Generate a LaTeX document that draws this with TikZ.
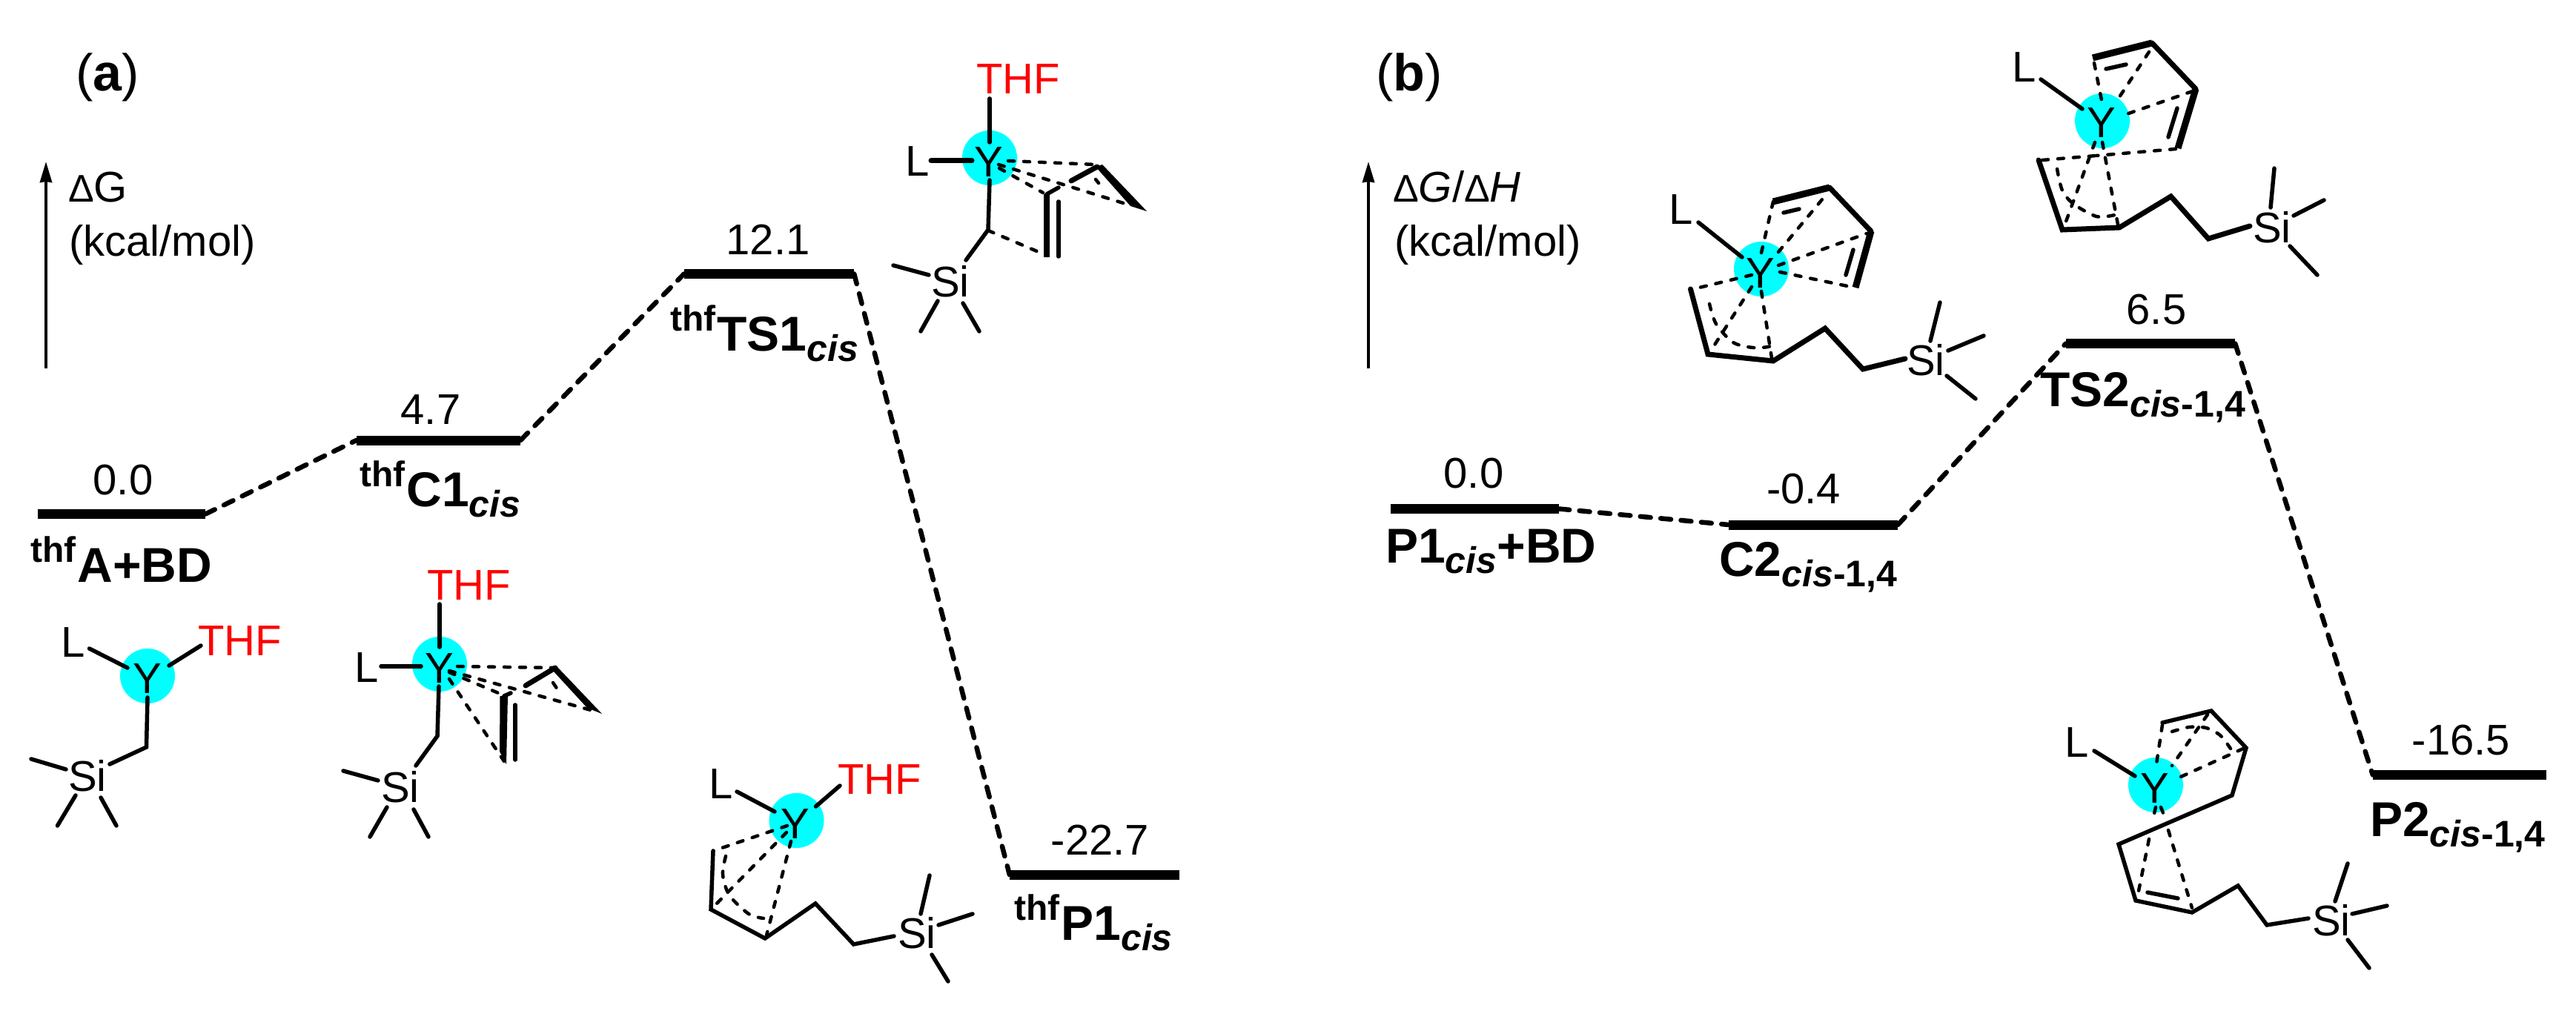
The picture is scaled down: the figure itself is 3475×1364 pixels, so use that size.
\documentclass[tikz,border=0pt]{standalone}
\usepackage{fontspec}
\setmainfont{Liberation Sans}
\usetikzlibrary{arrows.meta}
\definecolor{ycyan}{HTML}{00FFFF}
\newcommand\thfsup{\raisebox{27pt}{\fontsize{48}{48}\selectfont thf}}
\newcommand\cissub[1]{\raisebox{-14pt}{\fontsize{50}{50}\selectfont\textit{cis}#1}}
\newcommand\delt{{\fontsize{52}{52}\selectfont\upshape Δ}}
\tikzset{
  txt/.style={inner sep=0pt,anchor=base west,font=\fontsize{58}{58}\selectfont},
  ctr/.style={inner sep=0pt,anchor=base,font=\fontsize{58}{58}\selectfont},
  thf/.style={txt,text=red},
  lab/.style={inner sep=0pt,anchor=base west,font=\fontsize{66}{66}\selectfont\bfseries},
  panel/.style={inner sep=0pt,anchor=base west,font=\fontsize{70}{70}\selectfont},
  metal/.style={circle,fill=ycyan,inner sep=0pt,minimum size=74pt},
  level/.style={rectangle,fill=black,inner sep=0pt,minimum height=13pt,minimum width=#1},
  conn/.style={line width=6.5pt,line cap=round,dash pattern=on 14pt off 13.5pt},
  bond/.style={line width=5.5pt,line cap=round,line join=miter},
  bondb/.style={line width=7pt,line cap=round,line join=miter},
  heavy/.style={line width=9pt,line cap=butt},
  dbond/.style={line width=4.5pt,line cap=round,dash pattern=on 8pt off 13pt},
  axis/.style={line width=4pt,-{Stealth[length=28pt,width=16pt,inset=1pt]}}
}
\begin{document}
\begin{tikzpicture}[x=1pt,y=-1pt]
\useasboundingbox (0,0) rectangle (3475,1364);
% ---- panel labels and axes
\node[panel] (pa) at (102,123) {(\textbf{a})};
\node[panel] (pb) at (1856,123) {(\textbf{b})};
\coordinate (a0) at (62,497); \coordinate (a1) at (62,218);
\coordinate (b0) at (1846,497); \coordinate (b1) at (1846,218);
\draw[axis] (a0) -- (a1);
\draw[axis] (b0) -- (b1);
\node[txt] (gl) at (92,273) {\delt G};
\node[txt] (ul) at (93,345) {(kcal/mol)};
\node[txt] (gr) at (1879,273) {\delt\textit{G}/\delt\textit{H}};
\node[txt] (ur) at (1881,345) {(kcal/mol)};
% ---- levels
\node[level=226pt] (l1) at (164,693.5) {};
\node[level=221pt] (l2) at (591.5,594) {};
\node[level=229pt] (l3) at (1037.5,369.5) {};
\node[level=229pt] (l4) at (1476.5,1180) {};
\node[level=227pt] (r1) at (1989.5,686.5) {};
\node[level=228pt] (r2) at (2446,708) {};
\node[level=228pt] (r3) at (2901,463.5) {};
\node[level=234pt] (r4) at (3318,1045.5) {};
\draw[conn] (l1.east) -- (l2.west);
\draw[conn] (l2.east) -- (l3.west);
\draw[conn] (l3.east) -- (l4.west);
\draw[conn] (r1.east) -- (r2.west);
\draw[conn] (r2.east) -- (r3.west);
\draw[conn] (r3.east) -- (r4.west);
% ---- energies
\node[ctr] (e1) at (166,667) {0.0};
\node[ctr] (e2) at (581,572) {4.7};
\node[ctr] (e3) at (1036,343) {12.1};
\node[ctr] (e4) at (1484,1153) {-22.7};
\node[ctr] (f1) at (1988,658) {0.0};
\node[ctr] (f2) at (2433,679) {-0.4};
\node[ctr] (f3) at (2909,437) {6.5};
\node[ctr] (f4) at (3320,1018) {-16.5};
% ---- state labels
\node[lab] (s1) at (41,785) {\thfsup\kern2pt A+BD};
\node[lab] (s2) at (485,683) {\thfsup\kern2pt C1\cissub{}};
\node[lab] (s3) at (904,473) {\thfsup\kern2pt TS1\cissub{}};
\node[lab] (s4) at (1368,1268) {\thfsup\kern2pt P1\cissub{}};
\node[lab] (t1) at (1869,759) {P1\cissub{}+BD};
\node[lab] (t2) at (2319,777) {C2\cissub{-1,4}};
\node[lab] (t3) at (2752,548) {TS2\cissub{-1,4}};
\node[lab] (t4) at (3197,1128) {P2\cissub{-1,4}};

% ---- molecule thfA
\node[metal] (ma) at (199,912) {};
\node[ctr] (ay) at (199,935) {Y};
\node[txt] (al) at (82,886) {L};
\node[thf] (at) at (267,884) {THF};
\node[txt] (as) at (92,1067) {Si};
\draw[bond] (120.5,875) -- (172,901);
\draw[bond] (228,898) -- (271,871);
\draw[bond] (199,941) -- (197.5,1008) -- (148,1031);
\draw[bond] (42,1024) -- (89,1038);
\draw[bond] (102,1073) -- (77.5,1114);
\draw[bond] (136,1076) -- (157,1114);

% ---- molecule thfC1
\node[metal] (mb) at (593,896) {};
\node[ctr] (by) at (593,921) {Y};
\node[txt] (bl) at (478,920) {L};
\node[thf] (bt) at (576,809) {THF};
\node[txt] (bs) at (514,1082) {Si};
\draw[bond] (593,815) -- (593,873);
\draw[bond] (514,899) -- (568,899);
\draw[bond] (592,926) -- (590,993) -- (561,1033);
\draw[bond] (463,1040) -- (510,1053);
\draw[bond] (522,1089) -- (499,1129);
\draw[bond] (558,1092) -- (578,1129);
\fill (752,900) -- (812,963) -- (792,955) -- (746,905) -- cycle;
\fill (674.5,939) -- (685,939) -- (683,1031) -- (674,1014) -- cycle;
\draw[bondb] (709,925) -- (749,901);
\draw[bond] (680,939) -- (689,935);
\draw[bond] (695,951) -- (695,1025);
\draw[dbond] (617,899) -- (749,901);
\draw[dbond] (606,905) -- (804,960);
\draw[dbond] (606,907) -- (677,937);
\draw[dbond] (606,916) -- (680,1027);
\draw[dbond] (746,921) -- (752,930);

% ---- molecule thfTS1
\node[metal] (mc) at (1335,213) {};
\node[ctr] (cy) at (1334,239) {Y};
\node[txt] (cl) at (1221,238) {L};
\node[thf] (ct) at (1317,127) {THF};
\node[txt] (cs) at (1256,400) {Si};
\draw[bond] (1335,133) -- (1335,192);
\draw[bondb] (1256,217) -- (1311,217);
\draw[bond] (1335,243) -- (1333,310) -- (1303,351);
\draw[bond] (1205,358) -- (1253,371);
\draw[bond] (1265,406) -- (1242,447);
\draw[bond] (1299,409) -- (1321,447);
\fill (1487,222) -- (1530,267) -- (1547,285) -- (1525,278) -- (1478,225) -- cycle;
\draw[bondb] (1445,244) -- (1480,225);
\draw[bond] (1412,262) -- (1428,253);
\draw[line width=7.5pt] (1412,262) -- (1412,347);
\draw[bond] (1428,272) -- (1428,346);
\draw[dbond] (1360,217) -- (1478,222);
\draw[dbond] (1347,222) -- (1525,277);
\draw[dbond] (1348,227) -- (1407,260);
\draw[dbond] (1333,311) -- (1413,345);
\draw[dbond] (1478,242) -- (1482,247);

% ---- molecule thfP1
\node[metal] (md) at (1074.5,1107) {};
\node[ctr] (dy) at (1073,1131) {Y};
\node[txt] (dl) at (956,1077) {L};
\node[thf] (dt) at (1130,1071) {THF};
\node[txt] (ds) at (1211,1279) {Si};
\draw[bond] (994,1068) -- (1045,1095);
\draw[bond] (1100.5,1088) -- (1133,1060);
\draw[bond] (962,1148) -- (959,1227) -- (1032,1266) -- (1100,1219) -- (1151.5,1274) -- (1206,1263);
\draw[bond] (1254,1181) -- (1242,1233);
\draw[bond] (1266,1248) -- (1312,1233);
\draw[bond] (1257,1288) -- (1279,1324);
\draw[dbond] (1062,1114) -- (962,1148);
\draw[dbond] (1061,1123) -- (959,1227);
\draw[dbond] (1067,1135) -- (1034,1262);
\draw[dbond] plot[smooth] coordinates {(979,1155) (975,1180) (984,1208) (1010,1233) (1030,1239)};

% ---- molecule C2
\node[metal] (me) at (2376,363) {};
\node[ctr] (ey) at (2375,388) {Y};
\node[txt] (el) at (2251,303) {L};
\node[txt] (es) at (2572,506) {Si};
\draw[bond] (2291,300) -- (2350,347);
\draw[heavy] (2392,272) -- (2468,253);
\draw[bondb] (2468,253) -- (2524,312);
\draw[heavy] (2524,312) -- (2503,388);
\draw[bond] (2406,287) -- (2427,282);
\draw[bond] (2490,371) -- (2500,337);
\draw[dbond] (2376,341) -- (2392,272);
\draw[dbond] (2399,340) -- (2464,262);
\draw[dbond] (2399,358) -- (2518,315);
\draw[dbond] (2401,367) -- (2497,387);
\draw[bondb] (2280.5,390) -- (2304,478) -- (2392,487) -- (2462,443) -- (2513,498) -- (2570,484);
\draw[bond] (2617,408) -- (2604,460);
\draw[bond] (2628,473) -- (2676,453);
\draw[bond] (2626,507) -- (2665,538);
\draw[dbond] (2363,371) -- (2284,390);
\draw[dbond] (2363,387) -- (2308,473);
\draw[dbond] (2376,393) -- (2390,483);
\draw[dbond] plot[smooth] coordinates {(2306,410) (2315,437) (2338,462) (2365,469) (2388,467) (2388,457)};

% ---- molecule TS2
\node[metal] (mf) at (2836,163) {};
\node[ctr] (fy) at (2835,186) {Y};
\node[txt] (fl) at (2714,111) {L};
\node[txt] (fs) at (3039,327) {Si};
\draw[bond] (2753,107) -- (2809,147);
\draw[heavy] (2823,78) -- (2903,58);
\draw[bondb] (2903,58) -- (2962,120);
\draw[heavy] (2962,120) -- (2938,200);
\draw[bond] (2841,93) -- (2868,87);
\draw[bond] (2925,185) -- (2937,146);
\draw[dbond] (2825,85) -- (2836,140);
\draw[dbond] (2899,70) -- (2855,137);
\draw[dbond] (2958,123) -- (2860,157);
\draw[dbond] (2935,201) -- (2828,210);
\draw[bondb] (2750,216) -- (2782,310) -- (2859,307) -- (2928.5,265) -- (2979,322) -- (3035,305);
\draw[bond] (3068,227) -- (3063,280);
\draw[bond] (3094,291) -- (3135,270);
\draw[bond] (3089,332) -- (3126,371);
\draw[dbond] (2755,216) -- (2828,210);
\draw[dbond] (2826,192) -- (2784,307);
\draw[dbond] (2836,192) -- (2857,303);
\draw[dbond] plot[smooth] coordinates {(2775,228) (2782,257) (2797,275) (2828,292) (2853,290)};

% ---- molecule P2
\node[metal] (mg) at (2908,1059) {};
\node[ctr] (gy) at (2907,1083) {Y};
\node[txt] (gll) at (2785,1021) {L};
\node[txt] (gs) at (3119,1262) {Si};
\draw[bond] (2825,1013) -- (2880,1047);
\draw[bond] (2917,975) -- (2983,959) -- (3030,1009) -- (3011,1073) -- (2858,1139) -- (2881,1215) -- (2957,1231) -- (3019,1195) -- (3058,1248) -- (3114,1239);
\draw[bond] (2897,1204) -- (2938,1212);
\draw[bond] (3167,1165) -- (3150,1216);
\draw[bond] (3173,1233) -- (3220,1222);
\draw[bond] (3167,1268) -- (3196,1306);
\draw[dbond] (2917,978) -- (2908,1037);
\draw[dbond] (2978,964) -- (2930,1033);
\draw[dbond] (3026,1010) -- (2933,1052);
\draw[dbond] plot[smooth] coordinates {(2930,987) (2953,981) (2976,982) (2995,992) (3009,1010)};
\draw[dbond] (2908,1089) -- (2905,1102);
\draw[dbond] (2899,1132) -- (2884,1207);
\draw[dbond] (2915,1089) -- (2920,1102);
\draw[dbond] (2925,1120) -- (2957,1225);
\end{tikzpicture}
\end{document}
